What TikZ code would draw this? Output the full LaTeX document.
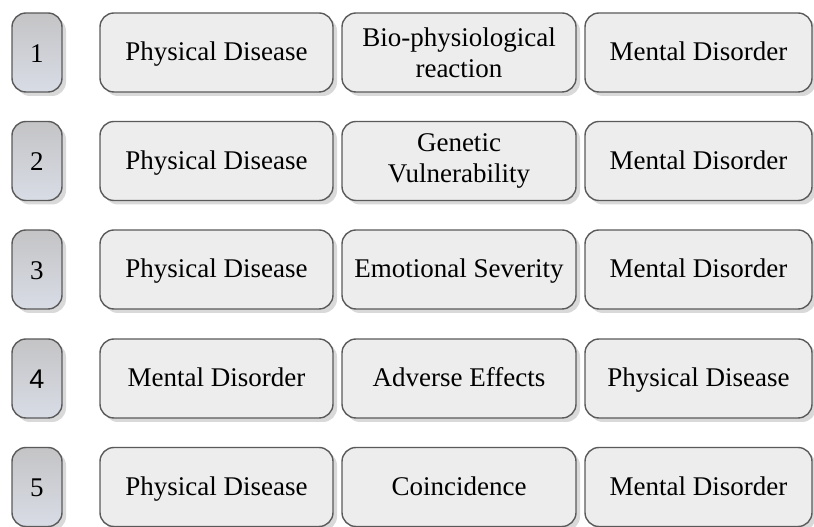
\documentclass[tikz,border=0pt]{standalone}
\usepackage{fontspec}
\setmainfont{Liberation Serif}
\newfontfamily\numsans{Liberation Sans}
\usetikzlibrary{shadows}
\definecolor{boxgray}{RGB}{237,237,237}
\definecolor{numtop}{RGB}{196,196,198}
\definecolor{numbot}{RGB}{216,220,229}
\definecolor{edgegray}{RGB}{90,90,90}
\begin{document}
\begin{tikzpicture}[x=1pt, y=1pt,
    every node/.style={font=\fontsize{27}{31}\selectfont, align=center},
    numbox/.style={draw=edgegray, line width=1.4pt, rounded corners=14pt,
        top color=numtop, bottom color=numbot,
        drop shadow={shadow xshift=4pt, shadow yshift=-4pt, opacity=0.3},
        minimum width=50pt, minimum height=79pt, inner sep=0pt,
        text height=24pt, text depth=4pt},
    itembox/.style={draw=edgegray, line width=1.4pt, rounded corners=14pt,
        fill=boxgray,
        drop shadow={shadow xshift=4pt, shadow yshift=-4pt, opacity=0.3},
        minimum height=79pt, inner sep=0pt},
    oneline/.style={text height=23pt, text depth=6pt}]
            \useasboundingbox (0,0) rectangle (814,527);

            % row 1
            \node[numbox] (n1) at (37,474.5) {1};
            \node[itembox, oneline, minimum width=233pt] (a1) at (216.5,474.5) {Physical Disease};
            \node[itembox, minimum width=234pt] (b1) at (459,474.5) {Bio-physiological\\reaction};
            \node[itembox, oneline, minimum width=227pt] (c1) at (698.5,474.5) {Mental Disorder};

            % row 2
            \node[numbox] (n2) at (37,366) {2};
            \node[itembox, oneline, minimum width=233pt] (a2) at (216.5,366) {Physical Disease};
            \node[itembox, minimum width=234pt] (b2) at (459,366) {Genetic\\Vulnerability};
            \node[itembox, oneline, minimum width=227pt] (c2) at (698.5,366) {Mental Disorder};

            % row 3
            \node[numbox] (n3) at (37,257.5) {3};
            \node[itembox, oneline, minimum width=233pt] (a3) at (216.5,257.5) {Physical Disease};
            \node[itembox, oneline, minimum width=234pt] (b3) at (459,257.5) {Emotional Severity};
            \node[itembox, oneline, minimum width=227pt] (c3) at (698.5,257.5) {Mental Disorder};

            % row 4
            \node[numbox] (n4) at (37,148.5) {\numsans 4};
            \node[itembox, oneline, minimum width=233pt] (a4) at (216.5,148.5) {Mental Disorder};
            \node[itembox, oneline, minimum width=234pt] (b4) at (459,148.5) {Adverse Effects};
            \node[itembox, oneline, minimum width=227pt] (c4) at (698.5,148.5) {Physical Disease};

            % row 5
            \node[numbox] (n5) at (37,40) {5};
            \node[itembox, oneline, minimum width=233pt] (a5) at (216.5,40) {Physical Disease};
            \node[itembox, oneline, minimum width=234pt] (b5) at (459,40) {Coincidence};
            \node[itembox, oneline, minimum width=227pt] (c5) at (698.5,40) {Mental Disorder};

    \end{tikzpicture}
\end{document}
